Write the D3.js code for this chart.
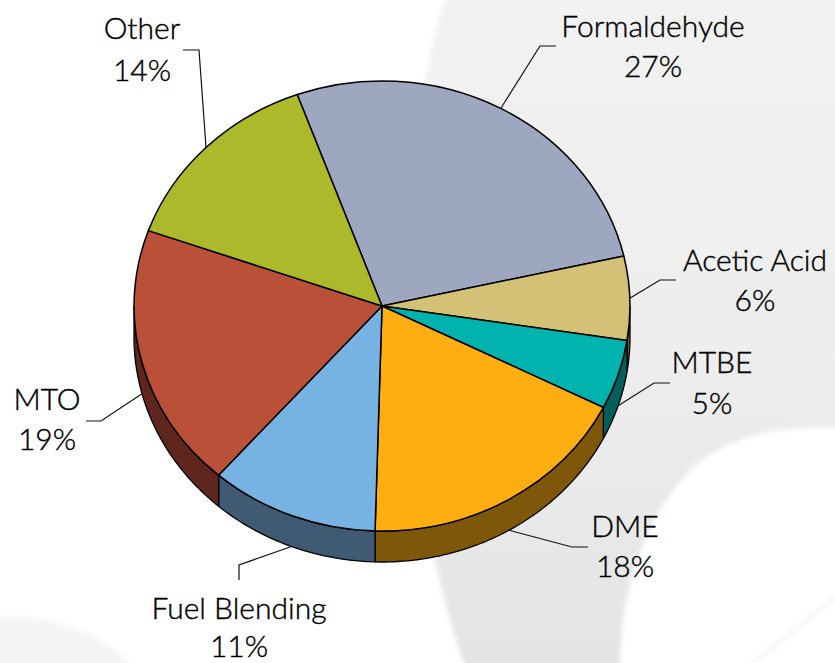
<!DOCTYPE html>
<html>
<head>
<meta charset="utf-8">
<script src="https://cdn.jsdelivr.net/npm/d3@7"></script>
<style>
html, body { margin: 0; padding: 0; background: #fff; }
svg { display: block; }
text { font-family: Lato, "Open Sans", sans-serif; font-size: 30px; font-weight: 300; fill: #000; stroke: #000; stroke-width: 0.4px; }
</style>
</head>
<body>
<div id="chart"></div>
<script>
var categories = ["Formaldehyde", "Acetic Acid", "MTBE", "DME", "Fuel Blending", "MTO", "Other"];
var shares = [27, 6, 5, 18, 11, 19, 14];

var topColors = ["#9da8c0", "#d3c176", "#00b3af", "#ffae12", "#76b3e3", "#bb5038", "#acb92b"];
var wallColors = ["#4e5460", "#6a613b", "#005f5c", "#7f570b", "#3f5a72", "#5e261c", "#565c15"];

// label centre x, first and second baseline, then leader elbow and end
var labelLayout = [
    {x: 653, y1: 37, y2: 77, elbow: [540, 46], end: [556, 46]},
    {x: 755, y1: 271, y2: 311, elbow: [660, 280], end: [676, 280]},
    {x: 712, y1: 373, y2: 414, elbow: [654, 383], end: [670, 383]},
    {x: 625, y1: 537, y2: 577, elbow: [572, 547], end: [588, 547]},
    {x: 239, y1: 619, y2: 657, elbow: [239, 565], end: [239, 580]},
    {x: 47, y1: 410, y2: 450, elbow: [101, 421], end: [86, 421]},
    {x: 142, y1: 39, y2: 81, elbow: [199, 50], end: [183, 50]}
];

var width = 835, height = 663;
var cx = 382, cy = 306, rx = 248, ry = 225, depth = 31;
var startDeg = -20;

var svg = d3.select("#chart").append("svg")
    .attr("width", width)
    .attr("height", height);

var defs = svg.append("defs");
defs.append("filter").attr("id", "soft")
    .attr("x", "-10%").attr("y", "-10%").attr("width", "120%").attr("height", "120%")
    .append("feGaussianBlur").attr("stdDeviation", 2.5);

var swoosh = defs.append("linearGradient").attr("id", "swoosh")
    .attr("x1", 0).attr("y1", 0).attr("x2", 0).attr("y2", 1);
swoosh.append("stop").attr("offset", "0%").attr("stop-color", "#f2f2f2");
swoosh.append("stop").attr("offset", "50%").attr("stop-color", "#eeeeee");
swoosh.append("stop").attr("offset", "100%").attr("stop-color", "#e3e3e3");

// washed out swoosh behind the chart
var bg = svg.append("g").attr("filter", "url(#soft)");
bg.append("path")
    .attr("d", "M448,-10 C425,60 410,150 408,300 C408,420 425,560 470,680 L850,680 L850,-10 Z")
    .attr("fill", "url(#swoosh)");
bg.append("path")
    .attr("d", "M620,680 C618,600 640,520 695,465 C735,432 790,425 850,428 L850,680 Z")
    .attr("fill", "#ffffff");
bg.append("path")
    .attr("d", "M-10,618 C50,612 105,630 145,680 L-10,680 Z")
    .attr("fill", "#f5f5f5");
bg.append("path")
    .attr("d", "M745,670 L850,585")
    .attr("fill", "none")
    .attr("stroke", "#f3f3f3")
    .attr("stroke-width", 3);

var pie = d3.pie().sort(null)
    .startAngle(startDeg * Math.PI / 180)
    .endAngle((startDeg + 360) * Math.PI / 180);
var slices = pie(shares);

var arc = d3.arc().innerRadius(0).outerRadius(1);

function rimX(a) { return cx + rx * Math.sin(a); }
function rimY(a) { return cy - ry * Math.cos(a); }

// front wall of a slice, only the part between 90 and 270 degrees shows
function wallPath(s) {
    var a0 = Math.max(s.startAngle, Math.PI / 2),
	a1 = Math.min(s.endAngle, Math.PI * 1.5);
    if (a1 <= a0) return null;
    var angles = d3.range(0, 61).map(function(i){ return a0 + (a1 - a0) * i / 60; });
    var rim = angles.map(function(a){ return [rimX(a), rimY(a)]; });
    var low = angles.slice().reverse().map(function(a){ return [rimX(a), rimY(a) + depth]; });
    return d3.line()(rim.concat(low)) + "Z";
}

var chart = svg.append("g");

chart.selectAll("path.wall")
    .data(slices.filter(function(s){ return wallPath(s); }))
    .enter().append("path")
    .attr("class", "wall")
    .attr("d", wallPath)
    .attr("fill", function(d){ return wallColors[d.index]; })
    .attr("stroke", "#000")
    .attr("stroke-width", 1.3)
    .attr("stroke-linejoin", "round");

chart.selectAll("path.top")
    .data(slices)
    .enter().append("path")
    .attr("class", "top")
    .attr("transform", "translate(" + cx + "," + cy + ") scale(" + rx + "," + ry + ")")
    .attr("d", arc)
    .attr("fill", function(d){ return topColors[d.index]; })
    .attr("stroke", "#000")
    .attr("stroke-width", 1.5)
    .attr("stroke-linejoin", "round")
    .attr("vector-effect", "non-scaling-stroke");

// leaders start on the rim at the middle of each slice
svg.append("g").selectAll("path")
    .data(slices)
    .enter().append("path")
    .attr("d", function(d){
	var mid = (d.startAngle + d.endAngle) / 2;
	var front = Math.cos(mid) < 0;
	var start = [rimX(mid), rimY(mid) + (front ? depth : 0)];
	var l = labelLayout[d.index];
	return d3.line()([start, l.elbow, l.end]);
    })
    .attr("fill", "none")
    .attr("stroke", "#111")
    .attr("stroke-width", 1.2);

var labels = svg.append("g").selectAll("text")
    .data(slices)
    .enter().append("text")
    .attr("text-anchor", "middle");

labels.append("tspan")
    .attr("x", function(d){ return labelLayout[d.index].x; })
    .attr("y", function(d){ return labelLayout[d.index].y1; })
    .text(function(d){ return categories[d.index]; });

labels.append("tspan")
    .attr("x", function(d){ return labelLayout[d.index].x; })
    .attr("y", function(d){ return labelLayout[d.index].y2; })
    .text(function(d){ return d.value + "%"; });
</script>
</body>
</html>
